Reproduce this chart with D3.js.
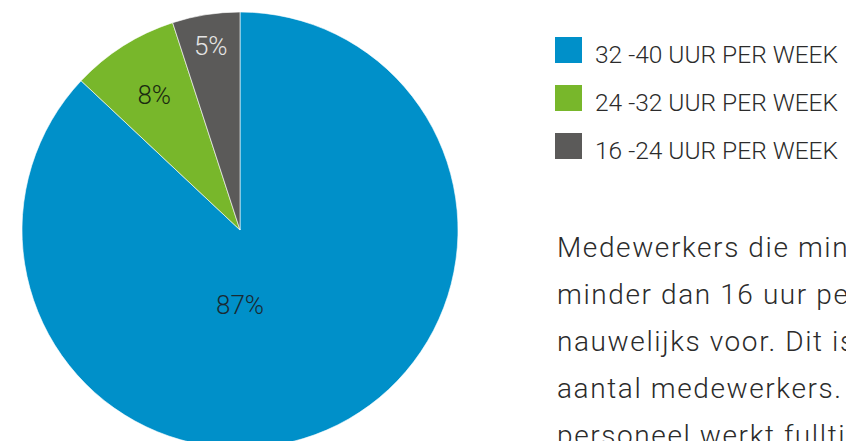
<!DOCTYPE html>
<html>
<head>
<meta charset="utf-8">
<script src="https://cdn.jsdelivr.net/npm/d3@7"></script>
<style>
  body { margin: 0; background: #fff; }
  svg { display: block; font-family: Roboto, "DejaVu Sans", sans-serif; }
</style>
</head>
<body>
<svg></svg>
<script>
const categories = ["32 -40 UUR PER WEEK", "24 -32 UUR PER WEEK", "16 -24 UUR PER WEEK"];
const values = [87, 8, 5];
const colors = ["#0090c9", "#78b72b", "#5b5a59"];
const labelColors = ["#1a2a33", "#1a2a10", "#e4e4e4"];
const paragraph = [
  "Medewerkers die minimaal 8 en",
  "minder dan 16 uur per week werken, komen",
  "nauwelijks voor. Dit is 1% van het totale",
  "aantal medewerkers. Het merendeel van het",
  "personeel werkt fulltime."
];

const W = 846, H = 441;
const cx = 240, cy = 230, radius = 218;

const svg = d3.select("svg").attr("width", W).attr("height", H);

const pie = d3.pie().sort(null).value(d => d);
const arcs = pie(values);
const arc = d3.arc().innerRadius(0).outerRadius(radius);

const g = svg.append("g").attr("transform", `translate(${cx},${cy})`);

g.selectAll("path.slice")
  .data(arcs)
  .join("path")
  .attr("class", "slice")
  .attr("d", arc)
  .attr("fill", (d, i) => colors[i])
  .attr("stroke", "#fff")
  .attr("stroke-width", 0.6);

// label placement: big slice label below centre, small ones along their mid angle
const labelRadius = [75, 160, 187];
g.selectAll("text.pct")
  .data(arcs)
  .join("text")
  .attr("class", "pct")
  .attr("transform", (d, i) => {
    const a = i === 0 ? Math.PI : (d.startAngle + d.endAngle) / 2;
    const r = labelRadius[i];
    return `translate(${r * Math.sin(a)},${-r * Math.cos(a)})`;
  })
  .attr("text-anchor", "middle")
  .attr("dy", "0.36em")
  .attr("font-size", 26)
  .attr("font-weight", 300)
  .attr("fill", (d, i) => labelColors[i])
  .text(d => d.data + "%");

// legend
const legend = svg.append("g").attr("transform", "translate(555,37)");
const item = legend.selectAll("g")
  .data(categories)
  .join("g")
  .attr("transform", (d, i) => `translate(0,${i * 48})`);

item.append("rect")
  .attr("width", 27).attr("height", 26)
  .attr("fill", (d, i) => colors[i]);

item.append("text")
  .attr("x", 40).attr("y", 26)
  .attr("font-size", 23)
  .attr("font-weight", 300)
  .attr("fill", "#2b2b2b")
  .attr("textLength", 243)
  .attr("lengthAdjust", "spacingAndGlyphs")
  .text(d => d);

// body text, runs off the right edge like the original
svg.append("g")
  .selectAll("text")
  .data(paragraph)
  .join("text")
  .attr("x", 557)
  .attr("y", (d, i) => 257 + i * 47)
  .attr("font-size", 28)
  .attr("font-weight", 300)
  .attr("letter-spacing", 1.6)
  .attr("fill", "#2b2b2b")
  .text(d => d);
</script>
</body>
</html>
